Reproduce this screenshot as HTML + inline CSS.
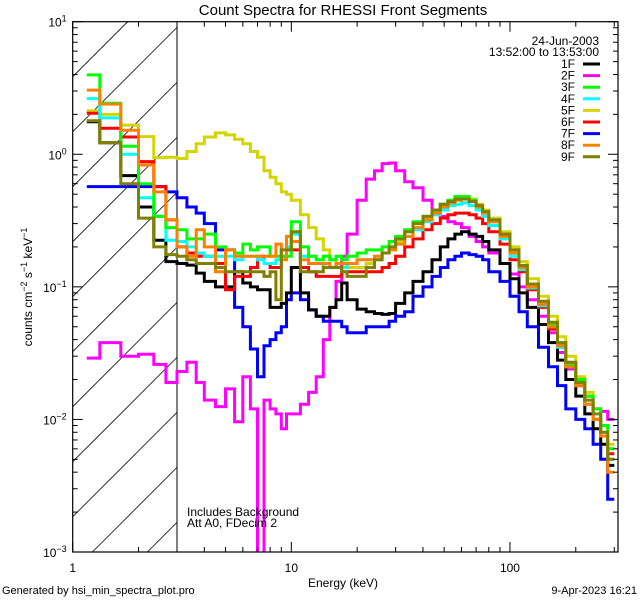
<!DOCTYPE html>
<html><head><meta charset="utf-8"><style>
html,body{margin:0;padding:0;background:#fff;overflow:hidden;width:640px;height:600px;}
svg{display:block;font-family:"Liberation Sans",sans-serif;}
</style></head><body>
<svg id="chart" width="640" height="600" viewBox="0 0 640 600">
<rect x="0" y="0" width="640" height="600" fill="#fff"/>
<text x="343" y="15" font-size="15" text-anchor="middle">Count Spectra for RHESSI Front Segments</text>
<g id="hatch"></g>
<g id="series"></g>
<g id="axes"></g>
<text x="32" y="287" font-size="12" text-anchor="middle" transform="rotate(-90 32 287)">counts cm<tspan dy="-5" font-size="9">−2</tspan><tspan dy="5"> s</tspan><tspan dy="-5" font-size="9">−1</tspan><tspan dy="5"> keV</tspan><tspan dy="-5" font-size="9">−1</tspan></text>
<text x="343" y="587" font-size="12" text-anchor="middle">Energy (keV)</text>
<text x="2" y="594" font-size="11">Generated by hsi_min_spectra_plot.pro</text>
<text x="637" y="594" font-size="11" text-anchor="end">9-Apr-2023 16:21</text>
<text x="187" y="516" font-size="12">Includes Background</text>
<text x="187" y="527" font-size="12">Att A0, FDecim 2</text>
<text x="599" y="45" font-size="12" text-anchor="end">24-Jun-2003</text>
<text x="599" y="56" font-size="12" text-anchor="end">13:52:00 to 13:53:00</text>
<g id="legend"></g>
</svg>
<script>
const edges=[1.16,1.33,1.66,2.0,2.35,2.67,3.0,3.33,3.67,4.0,4.5,5,5.5,6,6.5,7,7.5,8,8.5,9,9.5,10,11,12,13,14,15,16,17,18,20,22,24,26,28,30,33,36,40,44,48,52,56,60,65,70,75,80,90,100,110,120,135,150,165,180,200,220,240,260,280,300];
const labels=["1F","2F","3F","4F","5F","6F","7F","8F","9F"];
const colors=["#000000","#ff00ff","#00ff00","#00ffff","#d4d400","#ff0000","#0000ff","#ff8000","#808000"];
const s1F=[1.76,1.22,0.69,0.40,0.225,0.155,0.15,0.146,0.127,0.11,0.1,0.1,0.13,0.107,0.1,0.095,0.095,0.07,0.07,0.075,0.09,0.14,0.09,0.067,0.06,0.06,0.07,0.08,0.107,0.08,0.068,0.065,0.063,0.062,0.063,0.075,0.09,0.11,0.13,0.16,0.2,0.23,0.25,0.26,0.25,0.24,0.22,0.19,0.15,0.115,0.09,0.07,0.052,0.038,0.028,0.02,0.015,0.011,0.0085,0.0065,0.0045];
const s2F=[0.029,0.038,0.030,0.031,0.026,0.019,0.023,0.027,0.019,0.014,0.0125,0.017,0.0096,0.021,0.012,0.0005,0.014,0.012,0.011,0.0085,0.011,0.011,0.013,0.016,0.021,0.04,0.07,0.11,0.17,0.25,0.45,0.65,0.75,0.85,0.86,0.75,0.62,0.56,0.45,0.37,0.34,0.31,0.30,0.28,0.24,0.22,0.2,0.18,0.15,0.125,0.1,0.08,0.06,0.045,0.032,0.024,0.018,0.015,0.012,0.0115,0.01];
const s3F=[3.97,2.43,1.15,0.6,0.34,0.28,0.27,0.23,0.23,0.25,0.2,0.19,0.18,0.21,0.19,0.2,0.2,0.17,0.17,0.17,0.17,0.31,0.2,0.17,0.16,0.17,0.16,0.17,0.16,0.17,0.18,0.19,0.19,0.2,0.22,0.24,0.27,0.31,0.34,0.38,0.42,0.45,0.48,0.48,0.45,0.41,0.37,0.31,0.24,0.18,0.14,0.1,0.075,0.052,0.037,0.026,0.02,0.015,0.012,0.009,0.006];
const s4F=[2.63,1.88,1.0,0.47,0.34,0.225,0.22,0.2,0.18,0.17,0.17,0.17,0.16,0.17,0.17,0.16,0.15,0.15,0.16,0.17,0.2,0.25,0.17,0.15,0.15,0.14,0.14,0.14,0.14,0.15,0.16,0.16,0.17,0.18,0.19,0.21,0.24,0.27,0.31,0.35,0.38,0.41,0.42,0.43,0.41,0.38,0.34,0.29,0.23,0.17,0.135,0.098,0.072,0.05,0.035,0.025,0.018,0.013,0.01,0.0075,0.005];
const s5F=[2.13,2.0,1.66,1.36,0.94,0.95,0.93,1.05,1.2,1.35,1.45,1.4,1.3,1.2,1.05,0.95,0.75,0.67,0.6,0.52,0.5,0.45,0.35,0.28,0.23,0.19,0.16,0.15,0.15,0.14,0.14,0.15,0.16,0.18,0.2,0.22,0.26,0.3,0.33,0.37,0.41,0.44,0.46,0.47,0.46,0.42,0.38,0.33,0.26,0.2,0.155,0.115,0.085,0.06,0.042,0.03,0.021,0.016,0.012,0.009,0.0065];
const s6F=[2.04,1.57,1.35,0.88,0.57,0.32,0.2,0.18,0.17,0.17,0.15,0.095,0.12,0.12,0.14,0.17,0.15,0.14,0.14,0.17,0.19,0.19,0.14,0.13,0.12,0.12,0.12,0.12,0.13,0.13,0.13,0.13,0.13,0.14,0.15,0.17,0.2,0.23,0.27,0.3,0.33,0.35,0.36,0.36,0.35,0.33,0.3,0.26,0.21,0.16,0.13,0.095,0.07,0.048,0.035,0.025,0.018,0.013,0.01,0.0075,0.0055];
const s7F=[0.57,0.57,0.57,0.57,0.57,0.52,0.47,0.4,0.36,0.3,0.19,0.19,0.07,0.05,0.034,0.021,0.036,0.04,0.045,0.05,0.08,0.09,0.08,0.067,0.06,0.055,0.055,0.055,0.05,0.045,0.045,0.05,0.05,0.05,0.055,0.06,0.065,0.085,0.1,0.12,0.14,0.16,0.17,0.18,0.175,0.17,0.16,0.13,0.11,0.085,0.065,0.05,0.035,0.025,0.018,0.012,0.01,0.0085,0.0065,0.005,0.0025];
const s8F=[3.05,2.39,1.52,0.83,0.52,0.32,0.2,0.17,0.27,0.2,0.13,0.19,0.17,0.17,0.17,0.17,0.17,0.17,0.21,0.16,0.24,0.22,0.16,0.15,0.15,0.15,0.14,0.15,0.15,0.15,0.16,0.16,0.17,0.18,0.19,0.21,0.24,0.28,0.32,0.36,0.4,0.43,0.45,0.46,0.44,0.4,0.36,0.31,0.24,0.18,0.14,0.1,0.074,0.05,0.036,0.025,0.018,0.013,0.01,0.0075,0.004];
const s9F=[1.79,1.22,0.6,0.33,0.2,0.175,0.17,0.16,0.15,0.15,0.14,0.13,0.13,0.13,0.13,0.13,0.12,0.13,0.08,0.19,0.19,0.26,0.13,0.13,0.13,0.14,0.14,0.14,0.13,0.12,0.12,0.14,0.16,0.18,0.2,0.23,0.26,0.3,0.34,0.38,0.42,0.44,0.46,0.46,0.44,0.41,0.37,0.32,0.25,0.19,0.145,0.105,0.078,0.054,0.038,0.027,0.019,0.014,0.011,0.008,0.005];
const seriesData=[s1F,s2F,s3F,s4F,s5F,s6F,s7F,s8F,s9F];
const drawOrder=[1,4,6,0,5,3,2,7,8];
const yTickExps=[1,0,-1,-2,-3];
const xTickLabels=["1","10","100"];
const xTickVals=[1,10,100];

const NS="http://www.w3.org/2000/svg";
const L=72.7,R=618,T=21.7,B=552;
const XMIN=1,XMAX=312,YMIN=0.001,YMAX=10;
function xs(e){return L+(Math.log10(e)-Math.log10(XMIN))/(Math.log10(XMAX)-Math.log10(XMIN))*(R-L);}
function ys(v){return B-(Math.log10(v)-Math.log10(YMIN))/(Math.log10(YMAX)-Math.log10(YMIN))*(B-T);}
function mk(tag,attrs,parent){const el=document.createElementNS(NS,tag);for(const k in attrs)el.setAttribute(k,attrs[k]);parent.appendChild(el);return el;}
const svg=document.getElementById('chart');
const defs=mk('defs',{},svg);
const cp=mk('clipPath',{id:'plotclip'},defs);
mk('rect',{x:L,y:T,width:R-L,height:B-T},cp);

// hatch (manually clipped to region)
const hatch=document.getElementById('hatch');
const X3=xs(3);
for(let k=0;k<14;k++){
  const y0=T+k*55;
  // line: y = y0 - (x-L)
  let xa=L, xb=X3;
  if(y0>B) xa=L+(y0-B);
  const yAtXb=y0-(xb-L);
  if(yAtXb<T) xb=L+(y0-T);
  if(xb<=xa) continue;
  const ln=mk('line',{x1:xa,y1:y0-(xa-L),x2:xb,y2:y0-(xb-L),stroke:'#000','stroke-width':0.8},hatch);
  
  
}
const vl=mk('line',{x1:X3,y1:T,x2:X3,y2:B,stroke:'#000','stroke-width':1},hatch);



// series
const sg=document.getElementById('series');
sg.setAttribute('clip-path','url(#plotclip)');
drawOrder.forEach(i=>{
  const vals=seriesData[i];
  let d='';
  for(let j=0;j<vals.length;j++){
    const x0=xs(edges[j]),x1=xs(edges[j+1]),y=Math.min(ys(vals[j]),B+5);
    d+=(j===0?'M':'L')+x0.toFixed(1)+','+y.toFixed(1)+'L'+x1.toFixed(1)+','+y.toFixed(1);
  }
  const p=mk('path',{d:d,fill:'none',stroke:colors[i],'stroke-width':3,'stroke-linejoin':'miter'},sg);
  
  
});

// axes
const ax=document.getElementById('axes');
const fr=mk('rect',{x:L,y:T,width:R-L,height:B-T,fill:'none',stroke:'#000','stroke-width':1.2},ax);


for(let e=-3;e<=1;e++){
  for(let m=1;m<10;m++){
    const v=m*Math.pow(10,e); if(v>YMAX+1e-9)break;
    const y=ys(v),len=(m===1)?10:5;
    mk('line',{x1:L,y1:y,x2:L+len,y2:y,stroke:'#000','stroke-width':1},ax);
    mk('line',{x1:R,y1:y,x2:R-len,y2:y,stroke:'#000','stroke-width':1},ax);
  }
}
yTickExps.forEach(e=>{
  const t=mk('text',{x:L-6,y:ys(Math.pow(10,e))+5,'font-size':12,'text-anchor':'end'},ax);
  
  
  t.innerHTML='10<tspan dy="-5" font-size="9">'+(e<0?'−'+(-e):e)+'</tspan>';
});
for(let e=0;e<=2;e++){
  for(let m=1;m<10;m++){
    const v=m*Math.pow(10,e); if(v>XMAX)break; if(v<XMIN)continue;
    const x=xs(v),len=(m===1)?10:5;
    mk('line',{x1:x,y1:B,x2:x,y2:B-len,stroke:'#000','stroke-width':1},ax);
    mk('line',{x1:x,y1:T,x2:x,y2:T+len,stroke:'#000','stroke-width':1},ax);
  }
}
xTickVals.forEach((v,i)=>{
  const t=mk('text',{x:xs(v),y:B+20,'font-size':12,'text-anchor':'middle'},ax);
  
  
  t.textContent=xTickLabels[i];
});

// legend
const lg=document.getElementById('legend');
labels.forEach((lab,i)=>{
  const y=64+i*11.6;
  const t=mk('text',{x:575,y:y+4,'font-size':12,'text-anchor':'end'},lg);
  
  
  t.textContent=lab;
  const l=mk('line',{x1:583,y1:y,x2:600,y2:y,stroke:colors[i],'stroke-width':3},lg);
  
  
});
</script>
</body></html>
